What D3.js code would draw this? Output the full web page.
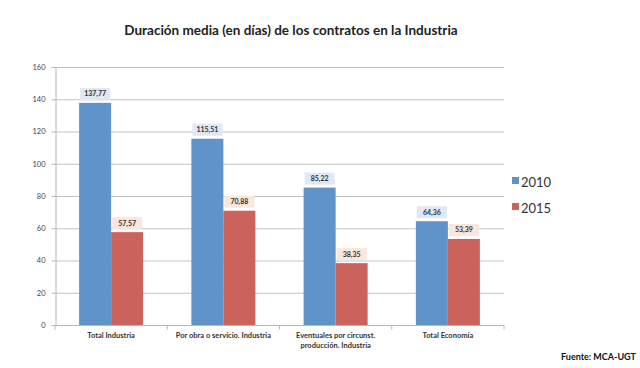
<!DOCTYPE html>
<html><head><meta charset="utf-8">
<script src="https://cdn.jsdelivr.net/npm/d3@7"></script>
<style>body{margin:0;background:#fff}svg{display:block}</style>
</head><body>
<svg id="c" width="640" height="368"></svg>
<script>
const categories = [["Total Industria"], ["Por obra o servicio. Industria"], ["Eventuales por circunst.", "producción. Industria"], ["Total Economía"]];
const series = ["2010", "2015"];
const values2010 = [137.77, 115.51, 85.22, 64.36];
const values2015 = [57.57, 70.88, 38.35, 53.39];
const yTicks = [0, 20, 40, 60, 80, 100, 120, 140, 160];
const colors = ["#5f93c9", "#cc625c"];
const boxColors = ["#dfe8f3", "#fbe6dc"];

const svg = d3.select("#c");
const font = "Lato, 'Open Sans', sans-serif";
const m = {l: 55, r: 136, t: 67, b: 43};
const W = 640, H = 368;
const x0 = d3.scaleBand().domain(d3.range(categories.length)).range([m.l, W - m.r]);
const x1 = d3.scaleBand().domain(series).range([0, 64]);
const y = d3.scaleLinear().domain([0, 160]).range([H - m.b, m.t]);

svg.append("text").attr("x", 291).attr("y", 35).attr("text-anchor", "middle")
  .attr("font-family", font).attr("font-weight", "bold").attr("font-size", 13.5).attr("fill", "#222")
  .text("Duración media (en días) de los contratos en la Industria");

// grid
svg.append("g").selectAll("line").data(yTicks).join("line")
  .attr("x1", m.l).attr("x2", W - m.r).attr("y1", d => y(d) + 0.5).attr("y2", d => y(d) + 0.5)
  .attr("stroke", "#c4c4c4").attr("stroke-width", 1);

// y axis
const ya = svg.append("g").attr("transform", `translate(${m.l + 0.5},0)`)
  .call(d3.axisLeft(y).tickValues(yTicks).tickSize(4).tickPadding(6));
ya.select(".domain").attr("stroke", "#b8b8b8");
ya.selectAll(".tick line").attr("stroke", "#b8b8b8");
ya.selectAll("text").attr("font-family", font).attr("font-size", 7.5).attr("fill", "#444");

// x axis
const xa = svg.append("g").attr("transform", `translate(0,${y(0) + 0.5})`);
xa.append("line").attr("x1", m.l).attr("x2", W - m.r).attr("stroke", "#b8b8b8");
xa.selectAll("line.t").data(d3.range(categories.length + 1)).join("line").attr("class", "t")
  .attr("x1", i => m.l + i * x0.step()).attr("x2", i => m.l + i * x0.step())
  .attr("y1", 0).attr("y2", 4).attr("stroke", "#b8b8b8");
categories.forEach((lines, i) => {
  const t = xa.append("text").attr("text-anchor", "middle").attr("font-family", font)
    .attr("font-weight", "bold").attr("font-size", 7.5).attr("fill", "#333");
  lines.forEach((ln, k) => t.append("tspan").attr("x", x0(i) + x0.bandwidth() / 2).attr("y", 12 + k * 10).text(ln));
});

// bars
const data = categories.map((c, i) => [values2010[i], values2015[i]]);
const g = svg.append("g");
data.forEach((vals, i) => {
  const gx = x0(i) + x0.bandwidth() / 2 - 32;
  vals.forEach((v, s) => {
    const bx = gx + x1(series[s]);
    g.append("rect").attr("x", bx).attr("y", y(v)).attr("width", x1.bandwidth()).attr("height", y(0) - y(v))
      .attr("fill", colors[s]);
    const label = d3.format(".2f")(v).replace(".", ",");
    const cx = bx + x1.bandwidth() / 2;
    g.append("rect").attr("x", cx - 15).attr("y", y(v) - 15).attr("width", 30).attr("height", 12)
      .attr("fill", boxColors[s]);
    g.append("text").attr("x", cx).attr("y", y(v) - 6.5).attr("text-anchor", "middle")
      .attr("font-family", font).attr("font-weight", "bold").attr("font-size", 7).attr("fill", "#333").text(label);
  });
});

// legend
series.forEach((s, i) => {
  const ly = 182 + i * 26;
  svg.append("rect").attr("x", 512).attr("y", ly - 5).attr("width", 7).attr("height", 7).attr("fill", colors[i]);
  svg.append("text").attr("x", 521).attr("y", ly + 5).attr("font-family", font).attr("font-size", 13)
    .attr("fill", "#333").text(s);
});

svg.append("text").attr("x", 636).attr("y", 360).attr("text-anchor", "end").attr("font-family", font)
  .attr("font-weight", "bold").attr("font-size", 9).attr("fill", "#111").text("Fuente: MCA-UGT");
</script>
</body></html>
